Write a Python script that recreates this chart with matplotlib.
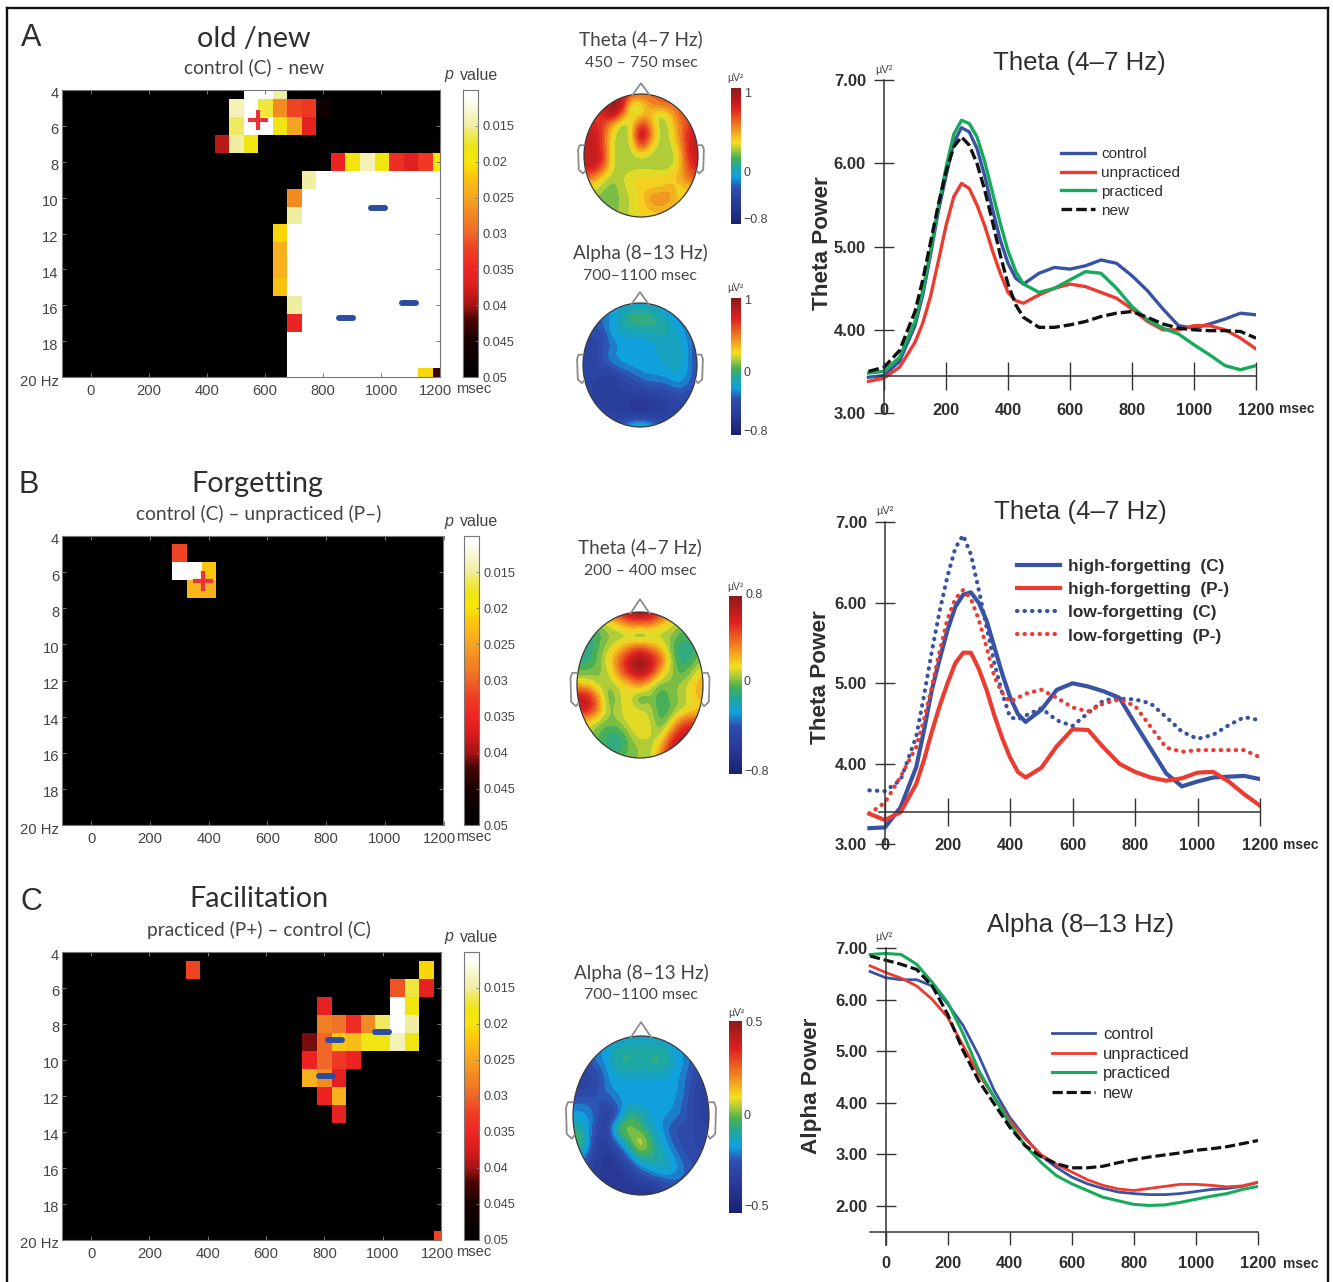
import numpy as np
import matplotlib
matplotlib.use("Agg")
import matplotlib.pyplot as plt
from matplotlib.colors import LinearSegmentedColormap
from matplotlib.lines import Line2D
from matplotlib.markers import MarkerStyle
from matplotlib.patches import Ellipse
from matplotlib.transforms import ScaledTranslation

W, H = 1333, 1282
SANS = "Liberation Sans"
HEAD = "Lato"
GREY = "#444444"
DARK = "#2e2e2e"

BLUE = "#3953a4"
RED = "#ec3b30"
GREEN = "#16aa5a"
BLACK = "#111111"

# time-frequency grid of the p value maps
TF_MSEC = np.arange(-100, 1201, 50)
TF_HZ = np.arange(4, 21)
P_TICKS = [0.015, 0.02, 0.025, 0.03, 0.035, 0.04, 0.045, 0.05]
P_WHITE = 0.01

# significant cells: (Hz, msec, p)
CELLS_A = [
    (4, 550, .01), (4, 600, .01), (4, 650, .015),
    (5, 500, .014), (5, 550, .01), (5, 600, .017), (5, 650, .027), (5, 700, .032), (5, 750, .033), (5, 800, .047),
    (6, 500, .016), (6, 550, .01), (6, 600, .01), (6, 650, .018), (6, 700, .025), (6, 750, .036),
    (7, 450, .039), (7, 500, .015), (7, 550, .018),
    (8, 850, .035), (8, 900, .019), (8, 950, .014), (8, 1000, .018), (8, 1050, .034), (8, 1100, .037), (8, 1150, .033), (8, 1200, .02),
    (9, 750, .015), (10, 700, .027), (11, 700, .015),
    (12, 650, .021), (13, 650, .024), (14, 650, .024), (15, 650, .0225),
    (16, 700, .015), (17, 700, .035),
    (20, 1150, .021), (20, 1200, .043),
]
# rows of panel A that stay white from this msec on
WHITE_FROM_A = {9: 800, 10: 750, 11: 750, 12: 700, 13: 700, 14: 700, 15: 700, 16: 750,
                17: 750, 18: 700, 19: 700, 20: 700}
WHITE_END_20HZ = 1100
CELLS_B = [
    (5, 300, .032),
    (6, 300, .01), (6, 350, .01), (6, 400, .022),
    (7, 350, .0235), (7, 400, .024),
]
CELLS_C = [
    (5, 350, .032), (5, 1150, .021),
    (6, 1050, .031), (6, 1100, .017), (6, 1150, .036),
    (7, 800, .036), (7, 1050, .01), (7, 1100, .019),
    (8, 800, .028), (8, 850, .029), (8, 900, .034), (8, 950, .027), (8, 1000, .016), (8, 1050, .01), (8, 1100, .015),
    (9, 750, .041), (9, 800, .03), (9, 850, .022), (9, 900, .023), (9, 950, .018), (9, 1000, .018), (9, 1050, .014), (9, 1100, .018),
    (10, 750, .035), (10, 800, .03), (10, 850, .033), (10, 900, .035),
    (11, 750, .024), (11, 800, .027), (11, 850, .036),
    (12, 800, .035), (12, 850, .024),
    (13, 850, .036),
    (20, 1200, .032),
]
DASHES_A = [(988, 10.6), (1096, 15.9), (880, 16.7)]
DASHES_C = [(997, 8.43), (837, 8.87), (806, 10.9)]
CROSS_A = (575, 5.7)
CROSS_B = (380, 6.48)

# scalp maps, colour level -10 (navy) .. 0 (green) .. 10 (dark red), read on a 13x13 grid
THETA_A = [
    [6, 6, 6, 7, 8, 6, 5, 5, 5, 5, 5, 5, 5],
    [6, 6, 7, 10, 9, .5, 2, 4, 5, 5, 5, 5, 5],
    [6, 6, 7, 9, 5, 1, 2.2, 3, .5, 2.5, 5, 6, 6],
    [7, 7, 6, 3, .3, 1.5, 7, 4, .3, 1.5, 4, 6, 7],
    [8, 8, 6, 1.5, .6, 1.5, 10, 5, .8, 1, 4, 7, 8],
    [8, 8, 6, 1, .8, 1, 7, 2.5, .8, .8, 3, 7, 8],
    [8, 8, 7, 1, .8, .8, 1.5, 1, .8, .6, 2, 7, 8],
    [8, 8, 6, 1.2, .8, .8, .8, .8, .6, .8, 2.2, 6, 7],
    [5, 5, 2.2, .8, 1.2, 2, 2.2, 2.2, 2.2, 2.2, 3, 5, 6],
    [2, 2, .8, .3, 1, 2, 2.2, 2.2, 2.2, 3, 2.2, 3, 4],
    [.8, .8, .3, .3, .8, 1.5, 2.2, 4, 4.2, 4, 2.2, 2.2, 2.2],
    [.8, .8, .3, .3, .8, 1.5, 2.2, 3, 3.5, 3, 2.2, 2.2, 2.2],
    [.8, .8, .8, .8, .8, 1.5, 2, 2.2, 2.2, 2.2, 2.2, 2.2, 2.2],
]
ALPHA_A = [
    [-5, -5, -5, -4, -3, -3, -3, -3, -3, -4, -5, -5, -5],
    [-5, -5, -4, -3, -2, -1, -1, -1, -2, -3, -4, -5, -5],
    [-5, -5, -4, -3, -2, -1, -1, -1, -1, -2, -3, -4, -5],
    [-5, -5, -5, -3, -2.5, -2.5, -2.5, -2, -2, -2, -2.5, -3.5, -5],
    [-6, -6, -5, -4, -3, -3.2, -3.2, -3, -2.5, -2, -2.5, -3, -5],
    [-6, -6, -4.5, -3.4, -3, -3, -3, -3, -2.5, -2, -2, -3, -5],
    [-6, -6, -5, -4, -3.4, -3, -3, -3, -3, -2.5, -2.5, -3, -5],
    [-6, -6, -6, -6.5, -5, -4.5, -3.5, -3.2, -3.2, -3, -2.5, -3.2, -5],
    [-6, -6, -6, -6.5, -6, -5.5, -5, -4.5, -4.5, -4, -3.5, -4, -5],
    [-6, -6, -6, -6, -6, -6.5, -6.5, -6, -6, -5.5, -5, -5, -5.5],
    [-6, -6, -6, -6, -6.5, -7, -7.5, -7, -6.5, -6, -5.5, -5.5, -5.5],
    [-6, -6, -6, -6, -6, -6, -6, -6, -6, -6, -6, -6, -6],
    [-6, -6, -6, -5, -4, -2, -1, -2, -4, -5, -6, -6, -6],
]
THETA_B = [
    [2, 2, 3, 6, 8, 9, 10, 9, 7, 5, 3, 2, 1],
    [0, 0, .5, 1.5, 2.5, 5, 5, 5, 2.5, 1.5, .5, 0, 0],
    [-1, -1, -.5, .5, .5, 0, -1.2, 0, .8, .8, -.5, 0, 0],
    [-1.5, -1.5, 0, 1, 2.5, 4.5, 6, 4.5, 2.5, 0, -1.5, -1, 0],
    [-1, -1, 0, 2.2, 5, 8, 10, 8, 6, .8, -1.5, -.5, .8],
    [0, 0, .5, 1, 4.5, 7.5, 9, 7.5, 2.5, .8, -.5, .8, 2.5],
    [2.5, 2.5, .8, .5, 1.5, 2.2, 4.5, 1.5, 0, .5, .8, 2.2, 4],
    [8, 8, 4, -.5, 1.2, 2, -1, .8, -1, .5, .8, 2.2, 3.5],
    [8, 8, 5, 0, 1.2, 2, 1.2, 1.2, -1, 0, .8, 1.5, 2.2],
    [2.5, 2.5, .8, .5, .8, 2, 2.4, 1.5, -.5, 1.2, 5, 6, 6],
    [.8, .8, 0, -1, -1, .8, 2.2, 1.5, .5, 5, 8, 8, 8],
    [.8, .8, 0, -1, -1.5, 0, .8, .8, 2.5, 8, 8, 8, 8],
    [.8, .8, .8, 0, 0, .5, .8, .8, 5, 8, 8, 8, 8],
]
ALPHA_C = [
    [-4, -4, -4, -3.5, -3, -3, -3, -3, -3, -3.5, -4, -4, -4],
    [-4, -4, -3.5, -3, -1.5, -1.5, -1.5, -1.5, -1.5, -3, -3.5, -4.5, -5],
    [-5, -5, -4, -3, -1, -1, -1.5, -1, -1, -2.5, -3.5, -5, -5.5],
    [-6, -6, -5.5, -3.5, -2.5, -2.5, -2.5, -2.5, -2.5, -3, -4, -5.5, -6],
    [-6, -5.5, -5, -3.5, -3, -3.2, -3.4, -3.2, -3, -3, -4, -6, -6.5],
    [-4, -4, -4.5, -5, -3.5, -3, -3, -3, -3, -3.2, -4.5, -6, -6.5],
    [-3, -3, -4, -6.5, -5, 0, -1.5, -3, -3.2, -3.5, -4.5, -6, -6.5],
    [-1, -2, -5, -6.5, 1.5, .5, -.5, -2.5, -3.5, -5, -5, -5.5, -6],
    [1, -1, -6, -6.5, -4, 0, 2.5, -1, -3, -4.5, -5, -5.5, -6],
    [-2, -3, -6.5, -7, -6, -3.5, 0, -1, -2, -3.5, -5, -5, -5.5],
    [-5, -5, -6.5, -7, -7, -6, -4, -2.5, -1.5, -2.8, -4, -5, -5],
    [-6, -6, -6.5, -7, -7, -6.5, -6, -5.5, -5, -4, -4.5, -5, -5],
    [-6, -6, -6.5, -7, -7, -7.5, -7.5, -7.5, -6, -5.5, -5, -5, -5],
]

# power curves, read closer together around the theta peak
MSEC_THETA = [-50, 0, 50, 100, 125, 150, 175, 200, 225, 250, 275, 300, 325, 350, 375, 400, 425, 450,
              500, 550, 600, 650, 700, 750, 800, 850, 900, 950, 1000, 1050, 1100, 1150, 1200]
A_CONTROL = [3.43, 3.45, 3.62, 4.05, 4.42, 4.90, 5.42, 5.85, 6.25, 6.43, 6.38, 6.18, 5.85, 5.45, 5.08, 4.80, 4.62, 4.55, 4.68, 4.75, 4.73, 4.77, 4.84, 4.80, 4.65, 4.47, 4.25, 4.05, 4.02, 4.07, 4.13, 4.20, 4.18]
A_UNPRACT = [3.38, 3.42, 3.55, 3.85, 4.08, 4.40, 4.82, 5.25, 5.60, 5.76, 5.70, 5.50, 5.25, 4.95, 4.68, 4.45, 4.35, 4.32, 4.42, 4.50, 4.55, 4.52, 4.45, 4.38, 4.25, 4.10, 4.00, 4.00, 4.05, 4.05, 4.00, 3.90, 3.77]
A_PRACT = [3.48, 3.50, 3.67, 4.10, 4.47, 4.95, 5.47, 5.95, 6.35, 6.52, 6.48, 6.32, 6.02, 5.65, 5.28, 4.95, 4.70, 4.55, 4.45, 4.50, 4.60, 4.70, 4.68, 4.50, 4.28, 4.12, 4.02, 3.95, 3.82, 3.70, 3.57, 3.52, 3.57]
A_NEW = [3.50, 3.55, 3.75, 4.22, 4.60, 5.05, 5.50, 5.90, 6.20, 6.32, 6.22, 6.00, 5.68, 5.30, 4.90, 4.55, 4.30, 4.15, 4.03, 4.03, 4.06, 4.10, 4.16, 4.20, 4.22, 4.15, 4.07, 4.02, 4.00, 3.99, 3.99, 3.98, 3.90]
B_HIGH_C = [3.20, 3.21, 3.46, 3.96, 4.42, 4.92, 5.30, 5.66, 5.95, 6.10, 6.13, 6.00, 5.78, 5.45, 5.12, 4.83, 4.62, 4.52, 4.67, 4.92, 5.00, 4.96, 4.90, 4.82, 4.50, 4.19, 3.88, 3.72, 3.78, 3.83, 3.84, 3.85, 3.81]
B_HIGH_P = [3.38, 3.30, 3.40, 3.75, 4.05, 4.40, 4.72, 5.00, 5.25, 5.38, 5.38, 5.18, 4.92, 4.60, 4.32, 4.08, 3.90, 3.83, 3.95, 4.22, 4.43, 4.42, 4.20, 4.00, 3.90, 3.83, 3.79, 3.82, 3.89, 3.90, 3.78, 3.62, 3.48]
B_LOW_C = [3.67, 3.66, 3.80, 4.34, 4.85, 5.40, 5.90, 6.33, 6.68, 6.84, 6.60, 6.16, 5.70, 5.25, 4.88, 4.58, 4.55, 4.60, 4.69, 4.54, 4.47, 4.63, 4.79, 4.81, 4.80, 4.75, 4.58, 4.40, 4.31, 4.36, 4.48, 4.58, 4.54]
B_LOW_P = [3.38, 3.52, 3.84, 4.21, 4.55, 4.96, 5.40, 5.80, 6.05, 6.16, 6.05, 5.79, 5.45, 5.08, 4.88, 4.77, 4.82, 4.87, 4.92, 4.82, 4.70, 4.65, 4.75, 4.80, 4.72, 4.46, 4.20, 4.15, 4.17, 4.17, 4.17, 4.17, 4.08]
MSEC_ALPHA = np.arange(-50, 1201, 50)
C_CONTROL = [6.55, 6.43, 6.39, 6.39, 6.27, 5.92, 5.50, 4.92, 4.24, 3.72, 3.33, 2.98, 2.75, 2.56, 2.43, 2.34, 2.27, 2.24, 2.22, 2.22, 2.24, 2.28, 2.32, 2.34, 2.38, 2.46]
C_UNPRACT = [6.66, 6.53, 6.42, 6.27, 6.01, 5.66, 5.11, 4.56, 4.11, 3.66, 3.30, 3.00, 2.81, 2.66, 2.51, 2.40, 2.33, 2.30, 2.34, 2.38, 2.42, 2.42, 2.40, 2.37, 2.39, 2.46]
C_PRACT = [6.88, 6.90, 6.88, 6.69, 6.34, 5.95, 5.34, 4.63, 4.11, 3.59, 3.17, 2.85, 2.59, 2.43, 2.30, 2.17, 2.10, 2.03, 2.01, 2.02, 2.07, 2.13, 2.19, 2.24, 2.32, 2.38]
C_NEW = [6.85, 6.77, 6.69, 6.59, 6.27, 5.72, 5.01, 4.43, 3.98, 3.53, 3.17, 2.96, 2.82, 2.74, 2.74, 2.77, 2.84, 2.90, 2.95, 2.99, 3.03, 3.08, 3.11, 3.15, 3.21, 3.27]
COND_LABELS = ["control", "unpracticed", "practiced", "new"]
FORGET_LABELS = ["high-forgetting  (C)", "high-forgetting  (P-)", "low-forgetting  (C)", "low-forgetting  (P-)"]

# reversed: low p (0.01) is white, high p (0.05) is black
p_cmap = LinearSegmentedColormap.from_list("pvalue", [
    (0.0, "#000000"), (0.125, "#1a0000"), (0.2, "#4a0505"), (0.25, "#a81414"), (0.325, "#e01f1f"),
    (0.375, "#ee2424"), (0.45, "#ee4424"), (0.5, "#f0682a"), (0.575, "#f28c22"), (0.625, "#f5a623"),
    (0.7, "#fcc60f"), (0.75, "#f7e607"), (0.8, "#eee514"), (0.85, "#f0ea60"), (0.875, "#f0eea0"),
    (0.925, "#f8f6cc"), (0.975, "#ffffff"), (1.0, "#ffffff")]).reversed()

topo_colors = LinearSegmentedColormap.from_list("topo", [
    (0.0, "#1a2270"), (0.15, "#2a3a98"), (0.27, "#2e50b0"), (0.34, "#10a0e0"), (0.42, "#20a8a0"),
    (0.49, "#4cb050"), (0.54, "#a0c840"), (0.6, "#f5e020"), (0.72, "#f08020"), (0.85, "#e02020"),
    (1.0, "#8b1a1a")])
topo_bands = topo_colors.resampled(30)

fig = plt.figure(figsize=(W / 100, H / 100), dpi=100)


def px_axes(l, t, r, b):
    return fig.add_axes([l / W, 1 - b / H, (r - l) / W, (b - t) / H])


def put(x, y, s, size=10, color=GREY, family=SANS, ha="center", **kw):
    fig.text(x / W, 1 - y / H, s, fontsize=size, color=color, family=family, ha=ha, va="center", **kw)


def shift_labels(labels, dx, dy):
    for lab in labels:
        lab.set_transform(lab.get_transform() + ScaledTranslation(dx / 100, -dy / 100, fig.dpi_scale_trans))


def heat_panel(rect, cells, cbar_x, letter, letter_xy, title, title_xy, sub, sub_xy, pval_y,
               dashes=(), cross=None, white_from=None):
    l, t, r, b = rect
    ax = px_axes(l, t, r, b)
    p = np.full((len(TF_HZ), len(TF_MSEC)), 0.05)
    if white_from:
        for hz, start in white_from.items():
            for j, ms in enumerate(TF_MSEC):
                if ms >= start and not (hz == 20 and ms > WHITE_END_20HZ):
                    p[hz - 4, j] = P_WHITE
    for hz, ms, val in cells:
        p[hz - 4, (ms + 100) // 50] = val
    ax.imshow(p, cmap=p_cmap, vmin=0.01, vmax=0.05, aspect="auto", interpolation="nearest",
              extent=[-125, 1225, 20.5, 3.5])
    ax.set_xlim(-100, 1200)
    ax.set_ylim(20, 4)
    ax.set_xticks(range(0, 1201, 200))
    ax.set_yticks(range(4, 21, 2))
    ax.set_yticklabels([str(v) for v in range(4, 20, 2)] + ["20 Hz"])
    ax.tick_params(direction="in", top=True, right=True, length=3, width=0.7, color="#777777",
                   labelcolor=GREY, labelsize=10.6, pad=5)
    ax.tick_params(axis="y", pad=2)
    for lab in ax.get_xticklabels() + ax.get_yticklabels():
        lab.set_family(SANS)
    shift_labels(ax.get_yticklabels(), 0, 3)
    shift_labels(ax.get_xticklabels()[-1:], -4, 0)
    for s in ax.spines.values():
        s.set_color("#777777")
        s.set_linewidth(0.8)
    dash_marker = MarkerStyle("_", capstyle="round")
    for x, y in dashes:
        ax.plot([x], [y], marker=dash_marker, ms=10.5, mew=4.3, color="#2c4ea0", ls="none")
    if cross:
        ax.plot([cross[0]], [cross[1]], marker="+", ms=14, mew=3, color="#e8323c", ls="none")
    put(456, b + 12, "msec", size=10.6, ha="left")

    # p value colour bar
    cax = px_axes(cbar_x[0], t, cbar_x[1], b)
    cax.imshow(np.linspace(0.01, 0.05, 256)[:, None], cmap=p_cmap, vmin=0.01, vmax=0.05, aspect="auto",
               extent=[0, 1, 0.05, 0.01])
    cax.set_xticks([])
    cax.set_yticks(P_TICKS)
    cax.set_yticklabels([f"{v:g}" for v in P_TICKS])
    cax.yaxis.tick_right()
    cax.tick_params(axis="y", direction="in", length=2, width=0.6, color="#777777",
                    labelcolor=GREY, labelsize=9.2, pad=3)
    for lab in cax.get_yticklabels():
        lab.set_family(SANS)
    for s in cax.spines.values():
        s.set_color("#777777")
        s.set_linewidth(0.8)
    put(444, pval_y, "p", size=11.5, style="italic", ha="left")
    put(460, pval_y, "value", size=11.5, ha="left")

    put(*letter_xy, letter, size=22, color=DARK)
    put(*title_xy, title, size=20.7, color=DARK, family=HEAD)
    put(*sub_xy, sub, size=13.8, family=HEAD)


def topo_panel(rect, grid, cbar, cbar_labels, title, title_y, span, span_y, unit_xy):
    l, t, r, b = rect
    ax = px_axes(l, t, r, b)
    ax.set_axis_off()
    im = ax.imshow(np.array(grid), cmap=topo_bands, vmin=-10, vmax=10, aspect="auto",
                   interpolation="bicubic", interpolation_stage="data")
    ax.set_xlim(0, 12)
    ax.set_ylim(12, 0)
    head = Ellipse((6, 6), 12, 12, transform=ax.transData, fc="none", ec="#3a3a3a", lw=0.9, clip_on=False)
    ax.add_patch(head)
    im.set_clip_path(head)
    ax.plot([5.1, 6, 6.9], [0.1, -1.05, 0.1], color="#8c8c8c", lw=1.3, clip_on=False)
    ax.plot([0, -.45, -.62, -.55, -.1, .12], [5.0, 5.0, 5.4, 7.4, 7.75, 7.5], color="#8c8c8c", lw=1.3, clip_on=False)
    ax.plot([12, 12.45, 12.62, 12.55, 12.1, 11.88], [5.0, 5.0, 5.4, 7.4, 7.75, 7.5], color="#8c8c8c", lw=1.3, clip_on=False)

    cl, ct, cr, cb = cbar
    cax = px_axes(cl, ct, cr, cb)
    cax.imshow(np.linspace(1, 0, 256)[:, None], cmap=topo_colors, vmin=0, vmax=1, aspect="auto")
    cax.set_xticks([])
    cax.set_yticks([])
    for s in cax.spines.values():
        s.set_visible(False)
    for txt, y, x in cbar_labels:
        put(x, y, txt, size=9, ha="left")
    put(*unit_xy, "\u00b5V\u00b2", size=7.5)
    cx = (l + r) / 2
    put(cx, title_y, title, size=13.6, family=HEAD)
    put(cx, span_y, span, size=11.4, family=HEAD)


def curve_axes(x0, x1, y7, ymin, ymin_px, axis_y, x_start, x_tick_len, x_pad, x_dir, title, title_xy,
               ylabel, ylabel_xy, unit_xy, msec_xy, yticks):
    left = x0 - (x1 - x0) / 12
    ax = px_axes(left, y7, x1, ymin_px)
    ax.patch.set_visible(False)
    ax.set_xlim(-100, 1200)
    ax.set_ylim(ymin, 7)
    ax.spines["top"].set_visible(False)
    ax.spines["right"].set_visible(False)
    ax.spines["left"].set_position(("data", 0))
    ax.spines["bottom"].set_position(("data", axis_y))
    ax.spines["bottom"].set_bounds(x_start, 1200)
    for s in ("left", "bottom"):
        ax.spines[s].set_color("#333333")
        ax.spines[s].set_linewidth(1.1)
    ax.set_xticks(range(0, 1201, 200))
    ax.set_yticks(yticks)
    ax.set_yticklabels([f"{v:.2f}" for v in yticks])
    ax.tick_params(axis="x", direction=x_dir, length=x_tick_len, width=1.0, color="#333333", pad=x_pad,
                   labelsize=11.8, labelcolor=DARK)
    ax.tick_params(axis="y", direction="inout", length=14, width=1.0, color="#333333", pad=6,
                   labelsize=12, labelcolor=DARK)
    for lab in ax.get_xticklabels() + ax.get_yticklabels():
        lab.set_family(SANS)
        lab.set_fontweight("bold")
    put(*title_xy, title, size=18.6, color=DARK)
    put(*ylabel_xy, ylabel, size=16.2, color=DARK, weight="bold", rotation=90)
    put(*unit_xy, "\u00b5V\u00b2", size=8)
    put(*msec_xy, "msec", size=10, color=DARK, weight="bold", ha="left")
    return ax


def curve_legend(ax, handles, labels, x, y, size, hlen, tpad, spacing, weight="normal"):
    ax.legend(handles, labels, loc="upper left", bbox_to_anchor=(x / W, 1 - y / H),
              bbox_transform=fig.transFigure, frameon=False, borderaxespad=0, borderpad=0,
              handlelength=hlen, handletextpad=tpad, labelspacing=spacing, labelcolor=DARK,
              prop={"family": SANS, "size": size, "weight": weight})


# outer frame, open at the bottom
for xs, ys in [((7, 7), (8, H)), ((7, 1328), (8, 8)), ((1328, 1328), (8, H))]:
    fig.add_artist(Line2D([x / W for x in xs], [1 - y / H for y in ys], color="#111111", lw=1.7))

heat_panel((61.5, 90, 439.5, 377), CELLS_A, (463, 478), "A", (31, 38), "old /new", (254, 39),
           "control (C) - new", (254, 67), 75, DASHES_A, CROSS_A, WHITE_FROM_A)
heat_panel((62, 536, 443.5, 825), CELLS_B, (464, 479), "B", (29, 485), "Forgetting", (257, 484),
           "control (C) \u2013 unpracticed (P\u2013)", (259, 514), 521, (), CROSS_B)
heat_panel((62, 952, 441, 1240), CELLS_C, (464, 479), "C", (31, 902), "Facilitation", (259, 899),
           "practiced (P+) \u2013 control (C)", (259, 930), 937, DASHES_C)

topo_panel((584, 94, 698, 217), THETA_A, (731, 88, 741, 224),
           [("1", 94, 744), ("0", 173, 744), ("\u22120.8", 220, 743)],
           "Theta (4\u20137 Hz)", 39, "450 \u2013 750 msec", 63, (735, 78))
topo_panel((583, 303, 697, 427), ALPHA_A, (731, 298, 741, 435),
           [("1", 301, 744), ("0", 373, 744), ("\u22120.8", 432, 743)],
           "Alpha (8\u201313 Hz)", 253, "700\u20131100 msec", 276, (735, 288))
topo_panel((577, 612, 703, 758), THETA_B, (729, 596, 742, 774),
           [("0.8", 595, 746), ("0", 682, 744), ("\u22120.8", 772, 744)],
           "Theta (4\u20137 Hz)", 547, "200 \u2013 400 msec", 571, (735, 587))
topo_panel((573, 1036, 709, 1195), ALPHA_C, (729, 1021, 742, 1213),
           [("0.5", 1023, 746), ("0", 1116, 744), ("\u22120.5", 1207, 744)],
           "Alpha (8\u201313 Hz)", 973, "700\u20131100 msec", 995, (736, 1013))

# right column
ax_a = curve_axes(884, 1256, 80.3, 3, 413, 3.45, -20, 20, 10, "inout",
                  "Theta (4\u20137 Hz)", (1079, 63), "Theta Power", (822, 243), (884, 70), (1279, 409),
                  [3, 4, 5, 6, 7])
h = []
h += ax_a.plot(MSEC_THETA, A_CONTROL, color=BLUE, lw=2.4)
h += ax_a.plot(MSEC_THETA, A_UNPRACT, color=RED, lw=2.4)
h += ax_a.plot(MSEC_THETA, A_PRACT, color=GREEN, lw=2.4)
h += ax_a.plot(MSEC_THETA, A_NEW, color=BLACK, lw=2.4, ls=(0, (3.2, 1.2)))
curve_legend(ax_a, h, COND_LABELS, 1061, 147, 11, 2.2, 0.45, 0.32)

ax_b = curve_axes(885, 1260, 522.3, 3, 844.3, 3.4, -20, 20, 9, "inout",
                  "Theta (4\u20137 Hz)", (1080, 512), "Theta Power", (820, 677), (885, 511), (1283, 845),
                  [3, 4, 5, 6, 7])
h = []
h += ax_b.plot(MSEC_THETA, B_HIGH_C, color=BLUE, lw=3)
h += ax_b.plot(MSEC_THETA, B_HIGH_P, color=RED, lw=3)
dot = (0, (0.1, 1.7))
h += ax_b.plot(MSEC_THETA, B_LOW_C, color=BLUE, lw=3, ls=dot, dash_capstyle="round")
h += ax_b.plot(MSEC_THETA, B_LOW_P, color=RED, lw=3, ls=dot, dash_capstyle="round")
curve_legend(ax_b, h, FORGET_LABELS, 1017, 559, 12.4, 2.5, 0.46, 0.47, weight="bold")

ax_c = curve_axes(885.6, 1258, 948.3, 1.25, 1244.6, 1.5, -50, 9, 8.5, "out",
                  "Alpha (8\u201313 Hz)", (1081, 925), "Alpha Power", (811, 1086), (884, 937), (1283, 1264),
                  [2, 3, 4, 5, 6, 7])
h = []
h += ax_c.plot(MSEC_ALPHA, C_CONTROL, color=BLUE, lw=2)
h += ax_c.plot(MSEC_ALPHA, C_UNPRACT, color=RED, lw=2)
h += ax_c.plot(MSEC_ALPHA, C_PRACT, color=GREEN, lw=2.2)
h += ax_c.plot(MSEC_ALPHA, C_NEW, color=BLACK, lw=2.3, ls=(0, (3.2, 1.2)))
curve_legend(ax_c, h, COND_LABELS, 1052, 1027, 12, 2.6, 0.48, 0.27)

fig.savefig("out.png", dpi=100)
